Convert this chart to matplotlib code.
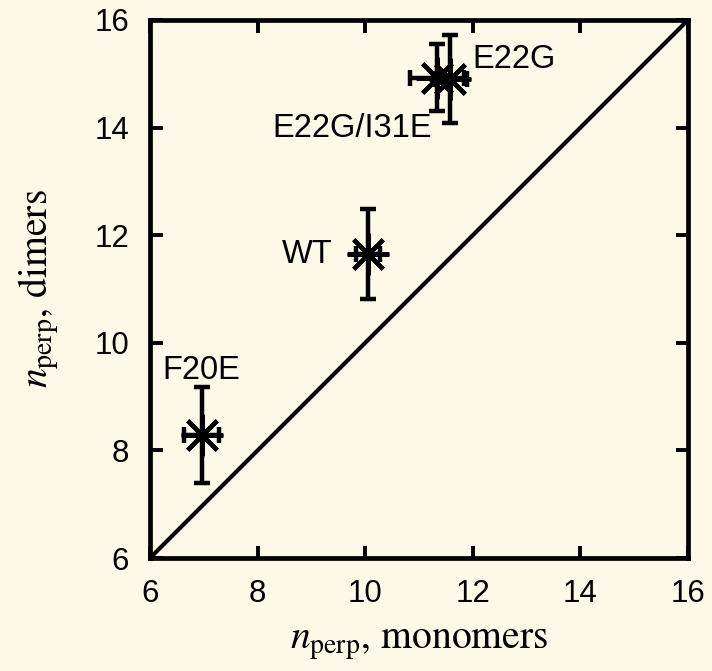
import matplotlib
matplotlib.use("Agg")
import matplotlib.pyplot as plt

plt.rcParams['font.family'] = ['Liberation Sans', 'DejaVu Sans']
plt.rcParams['mathtext.fontset'] = 'stix'

# data
names = ["F20E", "WT", "E22G/I31E", "E22G"]
n_mono = [6.96, 10.05, 11.33, 11.58]
n_mono_err = [0.33, 0.23, 0.50, 0.32]
n_dim = [8.28, 11.65, 14.93, 14.90]
n_dim_err = [0.89, 0.83, 0.62, 0.82]
label_pos = [(6.95, 9.48), (9.40, 11.65), (9.75, 13.99), (12.0, 15.26)]
label_ha = ["center", "right", "center", "left"]

bg = "#fdf9e9"

fig = plt.figure(figsize=(7.12, 6.71), dpi=100, facecolor=bg)
ax = fig.add_axes([0.2107, 0.1684, 0.7556, 0.8018], facecolor=bg)

ax.plot([6, 16], [6, 16], color="black", lw=3.0)

for x, xe, y, ye in zip(n_mono, n_mono_err, n_dim, n_dim_err):
    ax.errorbar(x, y, xerr=xe, yerr=ye, fmt="none", ecolor="black",
                elinewidth=3.2, capsize=5.5, capthick=3.2)
    ax.plot(x, y, marker=(8, 2, 0), ms=30, mew=3.0, color="black",
            linestyle="none")

for name, (tx, ty), ha in zip(names, label_pos, label_ha):
    ax.text(tx, ty, name, ha=ha, va="center", fontsize=23.5)

ax.set_xlim(6, 16)
ax.set_ylim(6, 16)
ax.set_xticks([6, 8, 10, 12, 14, 16])
ax.set_yticks([6, 8, 10, 12, 14, 16])
ax.tick_params(direction="in", length=9, width=2.8, labelsize=22.5,
               top=True, right=True, pad=15)
for s in ax.spines.values():
    s.set_linewidth(3.4)

ax.set_xlabel(r"$n_{\mathrm{perp}}$, monomers", fontsize=28.5,
              fontfamily="STIXGeneral", labelpad=11)
ax.set_ylabel(r"$n_{\mathrm{perp}}$, dimers", fontsize=28.5,
              fontfamily="STIXGeneral", labelpad=24)

fig.savefig("out.png", dpi=100, facecolor=bg)
